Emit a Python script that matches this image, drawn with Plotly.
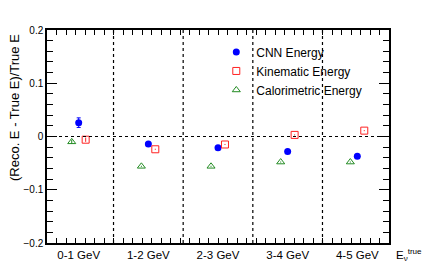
import plotly.graph_objects as go

bins = ["0-1 GeV", "1-2 GeV", "2-3 GeV", "3-4 GeV", "4-5 GeV"]
bin_centers = [0.5, 1.5, 2.5, 3.5, 4.5]

cnn_x = [0.5, 1.5, 2.5, 3.5, 4.5]
cnn_y = [0.026, -0.014, -0.021, -0.028, -0.037]
cnn_err = [0.009, 0.002, 0.002, 0.002, 0.002]

kin_x = [0.6, 1.6, 2.6, 3.6, 4.6]
kin_y = [-0.006, -0.024, -0.015, 0.003, 0.011]
kin_err = [0.004, 0.001, 0.001, 0.001, 0.001]

cal_x = [0.4, 1.4, 2.4, 3.4, 4.4]
cal_y = [-0.010, -0.056, -0.056, -0.048, -0.048]
cal_err = [0.004, 0.001, 0.001, 0.001, 0.001]

dividers = [1, 2, 3, 4]

FONT = "Liberation Sans, Arial, Helvetica, sans-serif"
XR = [0.045, 4.955]

fig = go.Figure()
fig.add_trace(go.Scatter(
    x=cnn_x, y=cnn_y, mode="markers", name="CNN Energy",
    marker=dict(symbol="circle", size=7, color="#0000ff"),
    error_y=dict(type="data", array=cnn_err, color="#0000ff", thickness=1, width=2),
))
fig.add_trace(go.Scatter(
    x=kin_x, y=kin_y, mode="markers", name="Kinematic Energy",
    marker=dict(symbol="square-open", size=7, color="#ff2222", line=dict(width=1)),
    error_y=dict(type="data", array=kin_err, color="#ff2222", thickness=1, width=0),
))
fig.add_trace(go.Scatter(
    x=cal_x, y=cal_y, mode="markers", name="Calorimetric Energy",
    marker=dict(symbol="triangle-up-open", size=7, color="#228b22", line=dict(width=1)),
    error_y=dict(type="data", array=cal_err, color="#228b22", thickness=1, width=0),
))
# invisible trace to host the label axis
fig.add_trace(go.Scatter(x=bin_centers, y=[None]*5, xaxis="x2", showlegend=False,
                         hoverinfo="skip", mode="markers"))

shapes = []
for d in dividers:
    shapes.append(dict(type="line", xref="x", yref="paper", x0=d, x1=d, y0=0, y1=1,
                       line=dict(color="black", width=1.2, dash="dot")))
shapes.append(dict(type="line", xref="paper", yref="y", x0=0, x1=1, y0=0, y1=0,
                   line=dict(color="black", width=1.2, dash="dot")))

# the page body adds an 8px margin, so the figure is sized to fit inside the window
fig.update_layout(
    width=428, height=265,
    margin=dict(l=39, r=47, t=22, b=29.5, autoexpand=False),
    paper_bgcolor="white", plot_bgcolor="white",
    font=dict(family=FONT, size=10, color="black"),
    shapes=shapes,
    showlegend=True,
    legend=dict(x=0.495, y=0.965, xanchor="left", yanchor="top",
                bgcolor="rgba(0,0,0,0)", font=dict(size=12), tracegroupgap=0),
    xaxis=dict(range=XR, showgrid=False, zeroline=False, showline=True,
               linecolor="black", linewidth=1.5, mirror="ticks",
               ticks="inside", ticklen=5, tickcolor="black",
               tickmode="linear", tick0=XR[0], dtick=(XR[1] - XR[0]) / 36,
               showticklabels=False, automargin=False),
    xaxis2=dict(range=XR, overlaying="x", side="bottom", showgrid=False,
                zeroline=False, showline=False, ticks="",
                tickmode="array", tickvals=bin_centers, ticktext=bins,
                tickfont=dict(size=11.5), ticklabelstandoff=3, automargin=False),
    yaxis=dict(range=[-0.2, 0.2], showgrid=False, zeroline=False, showline=True,
               linecolor="black", linewidth=1.5, mirror="ticks",
               ticks="inside", ticklen=10, tickcolor="black",
               tickmode="linear", tick0=0, dtick=0.1,
               minor=dict(ticks="inside", ticklen=6, dtick=0.02, tick0=0, tickcolor="black"),
               tickfont=dict(size=10), automargin=False),
)

# y-axis title, aligned to the top end of the axis
fig.add_annotation(x=-0.097, y=0.992, xref="paper", yref="paper",
                   xanchor="center", yanchor="top", showarrow=False, textangle=-90,
                   text="(Reco. E - True E)/True E", font=dict(size=13))

fig.add_annotation(x=1.0, y=-0.0585, xref="paper", yref="paper", xanchor="left", yanchor="middle",
                   xshift=5, showarrow=False,
                   text="E<sub>ν</sub><sup>true</sup>", font=dict(size=11.5))

fig.write_html("out.html")
